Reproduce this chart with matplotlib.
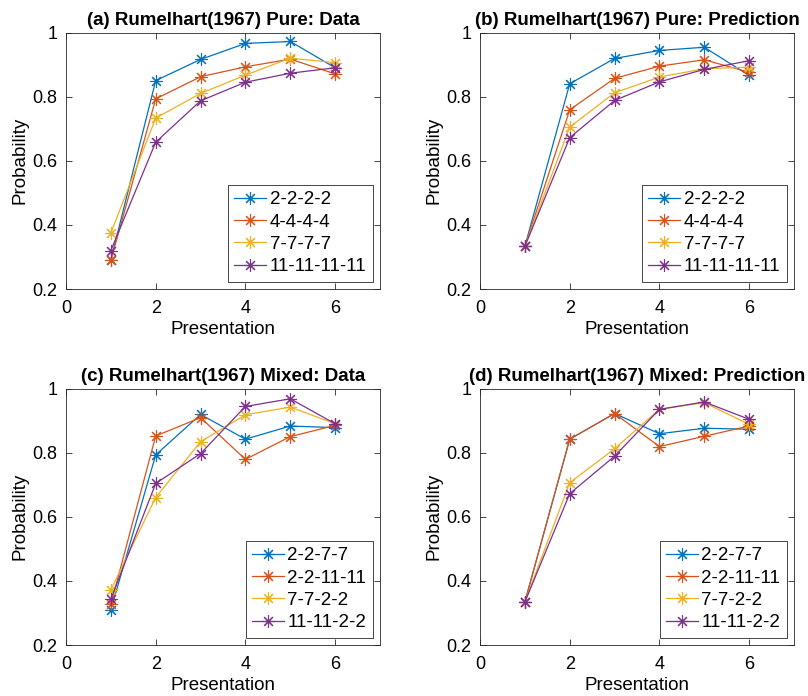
import matplotlib
matplotlib.use("Agg")
import matplotlib.pyplot as plt

plt.rcParams['font.family'] = ['Liberation Sans', 'DejaVu Sans']

presentation = [1, 2, 3, 4, 5, 6]

pure_labels = ['2-2-2-2', '4-4-4-4', '7-7-7-7', '11-11-11-11']
pure_data = [
    [0.291, 0.850, 0.916, 0.966, 0.972, 0.890],
    [0.289, 0.793, 0.862, 0.893, 0.917, 0.871],
    [0.375, 0.733, 0.810, 0.867, 0.920, 0.906],
    [0.320, 0.658, 0.787, 0.845, 0.873, 0.890],
]
pure_pred = [
    [0.333, 0.840, 0.919, 0.944, 0.954, 0.866],
    [0.333, 0.759, 0.857, 0.895, 0.915, 0.876],
    [0.333, 0.705, 0.812, 0.861, 0.887, 0.892],
    [0.333, 0.672, 0.788, 0.846, 0.885, 0.912],
]

mixed_labels = ['2-2-7-7', '2-2-11-11', '7-7-2-2', '11-11-2-2']
mixed_data = [
    [0.310, 0.793, 0.919, 0.842, 0.883, 0.878],
    [0.327, 0.852, 0.909, 0.779, 0.850, 0.885],
    [0.372, 0.660, 0.834, 0.918, 0.942, 0.890],
    [0.343, 0.704, 0.797, 0.944, 0.968, 0.890],
]
mixed_pred = [
    [0.334, 0.842, 0.922, 0.859, 0.876, 0.873],
    [0.334, 0.842, 0.922, 0.819, 0.851, 0.883],
    [0.334, 0.706, 0.812, 0.935, 0.956, 0.888],
    [0.334, 0.672, 0.789, 0.935, 0.958, 0.904],
]

titles = [
    '(a) Rumelhart(1967) Pure: Data',
    '(b) Rumelhart(1967) Pure: Prediction',
    '(c) Rumelhart(1967) Mixed: Data',
    '(d) Rumelhart(1967) Mixed: Prediction',
]

colors = ['#0072BD', '#D95319', '#EDB120', '#7E2F8E']
asterisk = (8, 2, 0)

fig = plt.figure(figsize=(8.08, 6.96), dpi=100)
W, H = 808, 696
panels = [
    (pure_data, pure_labels, 66, 32.5),
    (pure_pred, pure_labels, 480, 32.5),
    (mixed_data, mixed_labels, 66, 388.5),
    (mixed_pred, mixed_labels, 480, 388.5),
]
aw, ah = 314, 256.5

for (series, labels, left, top), title in zip(panels, titles):
    ax = fig.add_axes([left / W, 1 - (top + ah) / H, aw / W, ah / H])
    for vals, lab, c in zip(series, labels, colors):
        ax.plot(presentation, vals, color=c, lw=0.9, marker=asterisk,
                markersize=9, markeredgewidth=0.8, label=lab)
    ax.set_xlim(0, 7)
    ax.set_ylim(0.2, 1.0)
    ax.set_xticks([0, 2, 4, 6])
    ax.set_yticks([0.2, 0.4, 0.6, 0.8, 1.0])
    ax.set_yticklabels(['0.2', '0.4', '0.6', '0.8', '1'])
    ax.tick_params(direction='in', top=True, right=True, length=4,
                   width=0.6, labelsize=13, colors='#262626',
                   labelcolor='black')
    ax.tick_params(axis='x', pad=8)
    ax.tick_params(axis='y', pad=6)
    for s in ax.spines.values():
        s.set_linewidth(0.6)
        s.set_color('#262626')
    ax.set_xlabel('Presentation', fontsize=13.5, labelpad=3)
    ax.set_ylabel('Probability', fontsize=13.5, labelpad=3)
    ax.set_title(title, fontsize=13.5, fontweight='bold', pad=5.5)
    leg = ax.legend(loc='lower right', fontsize=13.5, fancybox=False,
                    framealpha=1, edgecolor='#262626', borderpad=0.33,
                    labelspacing=0.28, handlelength=1.7, handletextpad=0.2,
                    borderaxespad=0.4)
    leg.get_frame().set_linewidth(0.6)

fig.savefig('out.png', dpi=100)
